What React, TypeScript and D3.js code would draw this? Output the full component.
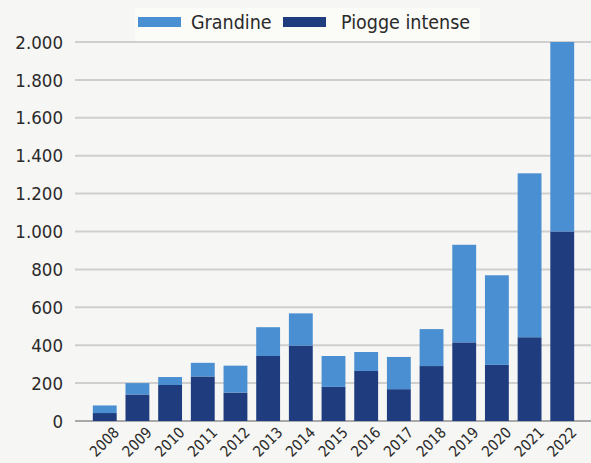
import React, { useEffect, useRef } from 'react';
import * as d3 from 'd3';

const years = ['2008', '2009', '2010', '2011', '2012', '2013', '2014', '2015', '2016', '2017', '2018', '2019', '2020', '2021', '2022'];
// Piogge intense (bottom, dark)
const piogge = [42, 140, 190, 235, 150, 343, 398, 180, 264, 168, 290, 415, 296, 442, 1000];
// Grandine (top, light)
const grandine = [40, 60, 42, 72, 142, 152, 170, 163, 100, 170, 195, 515, 473, 865, 1000];
const yTicks = [0, 200, 400, 600, 800, 1000, 1200, 1400, 1600, 1800, 2000];
const seriesNames = ['Grandine', 'Piogge intense'];
const colors = ['#4b8fd3', '#1f3d7e'];

const W = 591;
const H = 463;
const FONT = "'DejaVu Sans Condensed', 'Liberation Sans Narrow', 'Liberation Sans', sans-serif";

const App: React.FC = () => {
  const ref = useRef<SVGSVGElement | null>(null);

  useEffect(() => {
    if (!ref.current) return;
    const svg = d3.select(ref.current);
    svg.selectAll('*').remove();

    svg.append('rect').attr('width', W).attr('height', H).attr('fill', '#f6f6f4');

    const x = d3.scaleBand<string>().domain(years).range([84, 583]).padding(0.27);
    const y = d3.scaleLinear().domain([0, 2000]).range([421, 42]);
    const gridLeft = 75;

    // gridlines
    svg.append('g')
      .selectAll('line')
      .data(yTicks)
      .enter().append('line')
      .attr('x1', gridLeft).attr('x2', W)
      .attr('y1', d => y(d)).attr('y2', d => y(d))
      .attr('stroke', d => (d === 0 ? '#a9a9a9' : '#cfcfcf'))
      .attr('stroke-width', 2);

    // y labels
    svg.append('g')
      .selectAll('text')
      .data(yTicks)
      .enter().append('text')
      .attr('x', 63).attr('y', d => y(d))
      .attr('dy', '0.36em')
      .attr('text-anchor', 'end')
      .attr('font-family', FONT)
      .attr('font-size', 18.5)
      .attr('fill', '#2a2a2a')
      .text(d => d3.format(',')(d).replace(/,/g, '.'));

    const table = years.map((yr, i) => ({ year: yr, Piogge: piogge[i], Grandine: grandine[i] }));
    const stack = d3.stack<any>().keys(['Piogge', 'Grandine'])(table);
    const fills = [colors[1], colors[0]];

    svg.append('g')
      .selectAll('g')
      .data(stack)
      .enter().append('g')
      .attr('fill', (_, i) => fills[i])
      .selectAll('rect')
      .data(d => d)
      .enter().append('rect')
      .attr('x', d => x(d.data.year)!)
      .attr('width', x.bandwidth())
      .attr('y', d => y(d[1]))
      .attr('height', d => y(d[0]) - y(d[1]));

    // x labels
    svg.append('g')
      .selectAll('text')
      .data(years)
      .enter().append('text')
      .attr('transform', d => `translate(${x(d)! + x.bandwidth() / 2 + 8},${426}) rotate(-45)`)
      .attr('text-anchor', 'end')
      .attr('dy', '0.7em')
      .attr('font-family', FONT)
      .attr('font-size', 15)
      .attr('fill', '#2a2a2a')
      .text(d => d);

    // legend
    const lg = svg.append('g');
    lg.append('rect').attr('x', 135).attr('y', 8).attr('width', 345).attr('height', 33).attr('fill', '#fbfbf7');
    lg.append('line').attr('x1', 135).attr('x2', 480).attr('y1', 42).attr('y2', 42)
      .attr('stroke', '#d8d2c8').attr('stroke-width', 1).attr('stroke-dasharray', '2,1');
    const items = [
      { name: seriesNames[0], color: colors[0], sx: 138, tx: 191 },
      { name: seriesNames[1], color: colors[1], sx: 283, tx: 341 },
    ];
    items.forEach(it => {
      lg.append('rect').attr('x', it.sx).attr('y', 17).attr('width', 43).attr('height', 10).attr('fill', it.color);
      lg.append('text').attr('x', it.tx).attr('y', 22).attr('dy', '0.36em')
        .attr('font-family', FONT).attr('font-size', 19.5).attr('fill', '#2a2a2a').text(it.name);
    });
  }, []);

  return (
    <svg ref={ref} width={W} height={H} style={{ position: 'absolute', left: 0, top: 0, display: 'block' }} />
  );
};

export default App;
